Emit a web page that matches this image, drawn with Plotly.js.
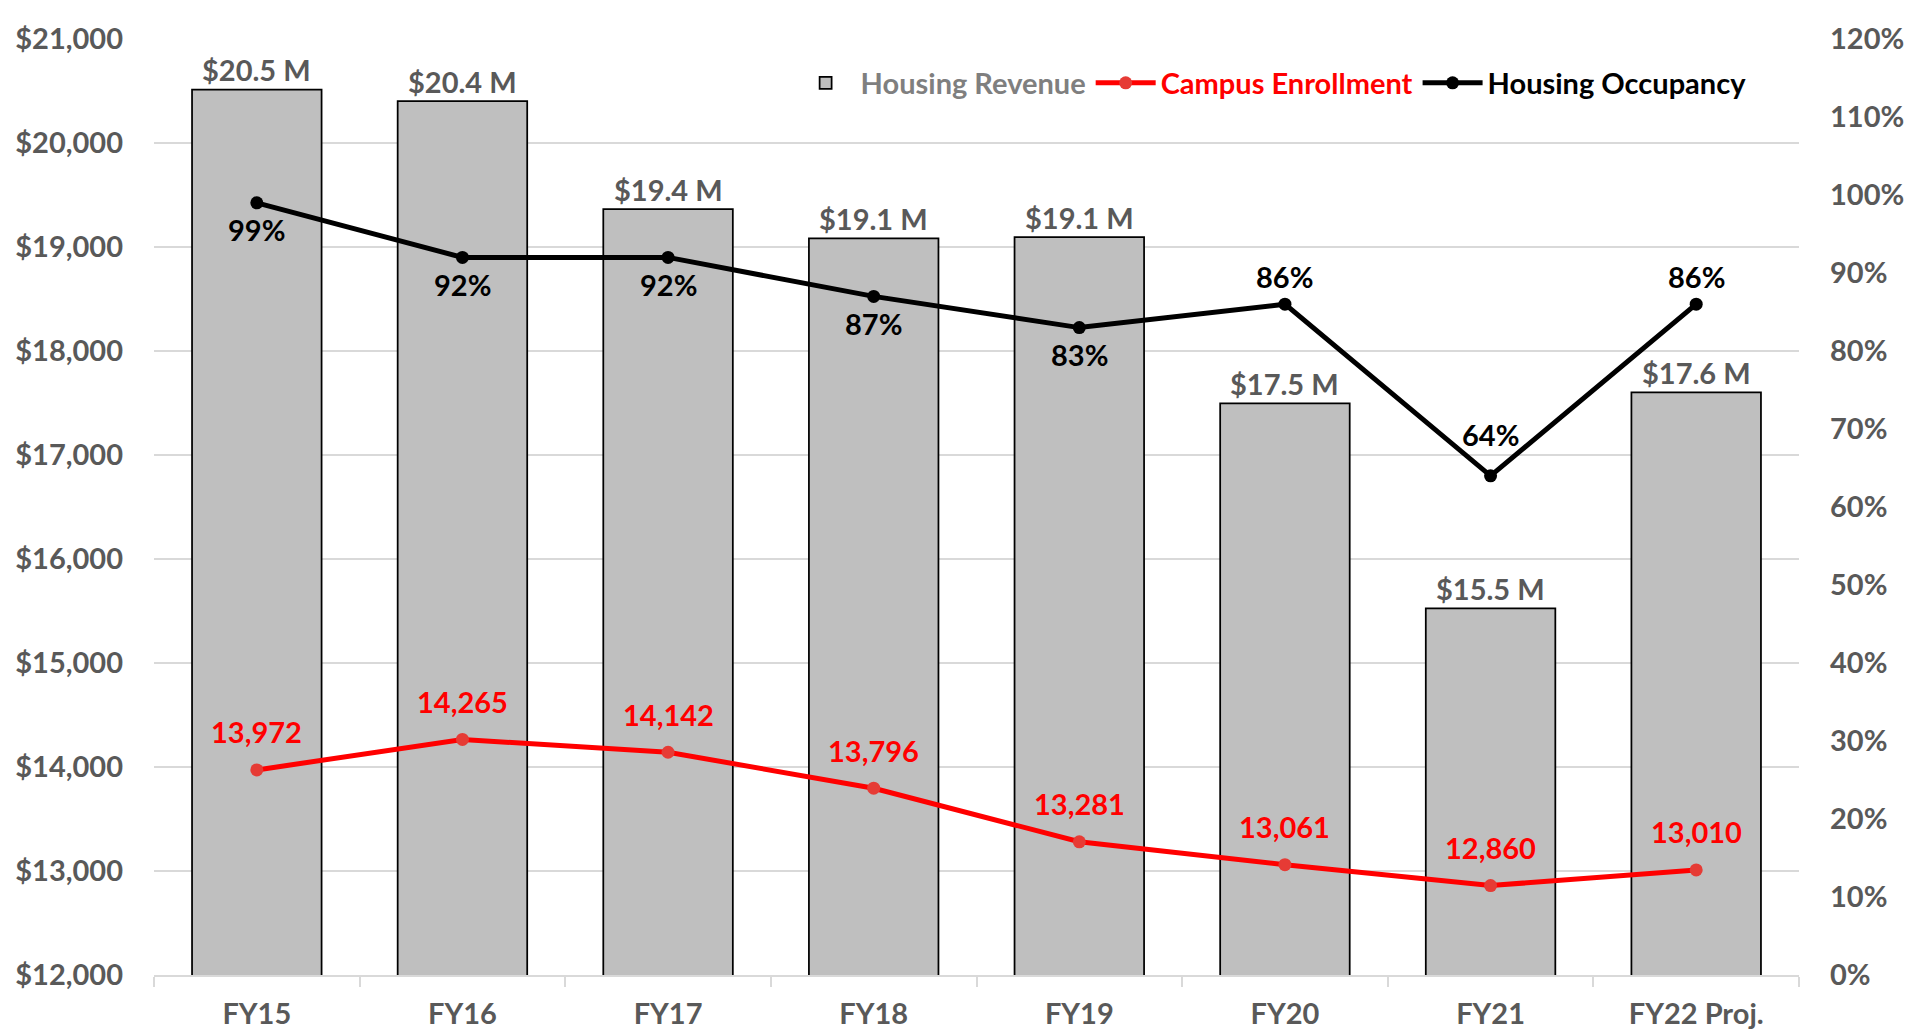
<!DOCTYPE html>
<html>
<head>
<meta charset="utf-8">
<script src="https://cdn.plot.ly/plotly-3.0.1.min.js"></script>
<style>html,body{margin:0;padding:0;background:#fff;}#chart{width:1907px;height:1034px;}</style>
</head>
<body>
<div id="chart"></div>
<script>
// ---- data ----
const categories = ['FY15', 'FY16', 'FY17', 'FY18', 'FY19', 'FY20', 'FY21', 'FY22 Proj.'];
const housingRevenue = [20514, 20403, 19364, 19084, 19096, 17497, 15525, 17602]; // $ thousands
const campusEnrollment = [13972, 14265, 14142, 13796, 13281, 13061, 12860, 13010];
const housingOccupancy = [0.99, 0.92, 0.92, 0.87, 0.83, 0.86, 0.64, 0.86];
const leftTickVals = [12000, 13000, 14000, 15000, 16000, 17000, 18000, 19000, 20000, 21000];
const leftTickText = leftTickVals.map(v => '$' + v.toLocaleString('en-US'));

// ---- label placement (style, not data) ----
const occLabelShift = [-27, -27, -27, -27, -27, 28, 41, 28];

const FONT = 'Lato, "Open Sans", sans-serif';
const GRAY = '#595959';
const FS = 29;

const traces = [
  {
    type: 'bar', name: '<span style="color:#7F7F7F">Housing Revenue</span>',
    x: categories, y: housingRevenue,
    marker: {color: '#BFBFBF', line: {color: '#000000', width: 1.75}},
    hoverinfo: 'skip'
  },
  {
    type: 'scatter', mode: 'lines+markers', name: '<span style="color:#FF0000">Campus Enrollment</span>',
    x: categories, y: campusEnrollment, yaxis: 'y',
    line: {color: '#FF0000', width: 5},
    marker: {color: '#E63B35', size: 13},
    hoverinfo: 'skip'
  },
  {
    type: 'scatter', mode: 'lines+markers', name: '<span style="color:#000000">Housing Occupancy</span>',
    x: categories, y: housingOccupancy, yaxis: 'y2',
    line: {color: '#000000', width: 5},
    marker: {color: '#000000', size: 13},
    hoverinfo: 'skip'
  }
];

const annotations = [];
categories.forEach((c, i) => {
  annotations.push({
    x: c, y: housingRevenue[i], xref: 'x', yref: 'y',
    text: '$' + (housingRevenue[i] / 1000).toFixed(1) + ' M',
    showarrow: false, yanchor: 'middle', yshift: 20,
    font: {family: FONT, size: FS, color: GRAY, weight: 'bold'}
  });
  annotations.push({
    x: c, y: campusEnrollment[i], xref: 'x', yref: 'y',
    text: campusEnrollment[i].toLocaleString('en-US'),
    showarrow: false, yanchor: 'middle', yshift: 38,
    font: {family: FONT, size: FS, color: '#FF0000', weight: 'bold'}
  });
  annotations.push({
    x: c, y: housingOccupancy[i], xref: 'x', yref: 'y2',
    text: Math.round(housingOccupancy[i] * 100) + '%',
    showarrow: false, yanchor: 'middle', yshift: occLabelShift[i],
    font: {family: FONT, size: FS, color: '#000000', weight: 'bold'}
  });
});

const layout = {
  width: 1907, height: 1034,
  margin: {l: 154, r: 108, t: 39, b: 59},
  paper_bgcolor: '#ffffff', plot_bgcolor: '#ffffff',
  font: {family: FONT, size: FS, color: GRAY, weight: 'bold'},
  bargap: 0.37,
  showlegend: true,
  legend: {
    orientation: 'h', x: 0.387, xanchor: 'left', y: 0.953, yanchor: 'middle',
    font: {family: FONT, size: FS, weight: 'bold'}, itemwidth: 60,
    bgcolor: 'rgba(0,0,0,0)', traceorder: 'normal'
  },
  xaxis: {
    type: 'category',
    showline: true, linecolor: '#D9D9D9', linewidth: 2,
    ticks: 'outside', tickson: 'boundaries', ticklen: 10, tickcolor: '#D9D9D9', tickwidth: 2,
    ticklabelstandoff: 12,
    tickfont: {family: FONT, size: FS, color: GRAY, weight: 'bold'},
    showgrid: false, zeroline: false, fixedrange: true
  },
  yaxis: {
    range: [12000, 21000], tickvals: leftTickVals, ticktext: leftTickText,
    showgrid: true, gridcolor: '#D9D9D9', gridwidth: 1.5,
    showline: false, zeroline: false, ticks: '', ticklabelstandoff: 30,
    tickfont: {family: FONT, size: FS, color: GRAY, weight: 'bold'}, fixedrange: true
  },
  yaxis2: {
    overlaying: 'y', side: 'right', range: [0, 1.2], dtick: 0.1, tick0: 0, tickformat: '.0%',
    showgrid: false, showline: false, zeroline: false, ticks: '', ticklabelstandoff: 30,
    tickfont: {family: FONT, size: FS, color: GRAY, weight: 'bold'}, fixedrange: true
  },
  annotations: annotations
};

Plotly.newPlot('chart', traces, layout, {displayModeBar: false, staticPlot: true});
</script>
</body>
</html>
